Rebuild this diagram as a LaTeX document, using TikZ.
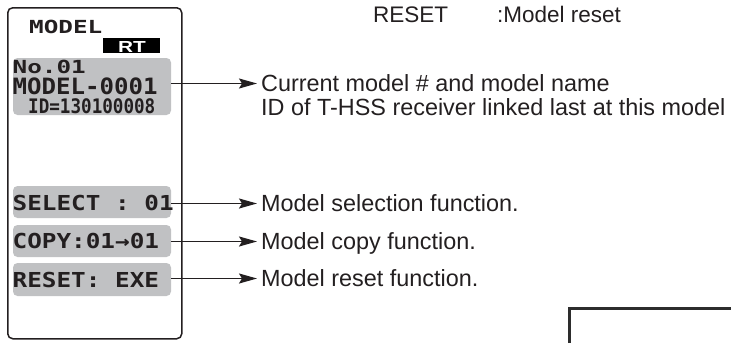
\documentclass[tikz,border=0pt]{standalone}
\usepackage{fontspec}
\setmainfont{Liberation Sans}
\newfontfamily\lcdA[FakeStretch=1.07]{DejaVu Sans Mono}
\newfontfamily\lcdB[FakeStretch=1.18]{DejaVu Sans Mono}
\newfontfamily\lcdW[FakeStretch=1.35]{DejaVu Sans Mono}
\newfontfamily\lcdN[FakeStretch=0.88]{DejaVu Sans Mono}
\newfontfamily\rtfont[FakeStretch=1.3]{Liberation Sans}
\usetikzlibrary{arrows.meta}
\definecolor{ink}{RGB}{35,31,32}
\definecolor{lcdgray}{RGB}{192,193,195}
\definecolor{framegray}{RGB}{45,45,45}
\begin{document}
\begin{tikzpicture}[x=1pt,y=-1pt,
  screen/.style={draw=ink, line width=1.5pt, rounded corners=5pt, inner sep=0pt},
  graybox/.style={fill=lcdgray, rounded corners=4.5pt, minimum width=158pt, inner sep=0pt},
  lcd/.style={font=\lcdB\bfseries\fontsize{20.6}{20.6}\selectfont, text=ink, inner sep=0pt, anchor=west, text height=15pt, text depth=0pt},
  desc/.style={font=\fontsize{23.4}{26}\selectfont, text=ink, inner sep=0pt, anchor=west, text height=16.75pt, text depth=0pt},
  pointer/.style={draw=ink, line width=1.6pt, -{Stealth[length=18pt,width=10pt,inset=3pt]}}]
\useasboundingbox (0,0) rectangle (731,343);

% screen outline
\node[screen, minimum width=174pt, minimum height=331pt, anchor=north west] (screen) at (7,7) {};

% header
\node[lcd, font=\lcdW\bfseries\fontsize{18}{18}\selectfont, text height=13pt] (title) at (29,26.5) {MODEL};
\node[fill=black, minimum width=57pt, minimum height=15pt, inner sep=0pt,
      anchor=north west] (rt) at (103,38) {};
\node[text=white, inner sep=0pt, font=\rtfont\bfseries\fontsize{16}{16}\selectfont,
      text height=11.5pt, text depth=0pt] (rtT) at (132,46.5) {RT};

% gray boxes
\node[graybox, minimum height=57pt] (boxA) at (92,86.5) {};
\node[graybox, minimum height=32pt] (sel) at (92,202) {};
\node[graybox, minimum height=32pt] (cpy) at (92,241) {};
\node[graybox, minimum height=33pt] (rst) at (92,279.5) {};

% LCD texts
\node[lcd, font=\lcdW\bfseries\fontsize{18}{18}\selectfont, text height=13pt] (numT) at (12.5,66.5) {No.01};
\node[lcd, font=\lcdA\bfseries\fontsize{22.5}{22.5}\selectfont, text height=16pt] (nameT) at (12.5,86) {MODEL-0001};
\node[lcd, font=\lcdN\bfseries\fontsize{20}{20}\selectfont, text height=14.5pt] (idT) at (28,106) {ID=130100008};
\node[lcd] (selT) at (12.5,202.5) {SELECT : 01};
\node[lcd] (cpyT) at (12.5,241) {COPY:01→01};
\node[lcd] (rstT) at (12.5,279.5) {RESET: EXE};

% descriptions
\node[desc] (d1) at (261,83.5) {Current model \# and model name};
\node[desc] (d2) at (261,107) {ID of T-HSS receiver linked last at this model};
\node[desc] (d3) at (261,203.5) {Model selection function.};
\node[desc] (d4) at (261,241.5) {Model copy function.};
\node[desc] (d5) at (261,278.5) {Model reset function.};

% top line
\node[desc, font=\fontsize{22.5}{24}\selectfont, anchor=base west] (topA) at (373,22) {RESET};
\node[desc, font=\fontsize{22.5}{24}\selectfont, anchor=base west] (topB) at (497,22) {:Model reset};

% pointers
\draw[pointer] (boxA.east |- d1.west) -- ([xshift=-4pt]d1.west);
\draw[pointer] (sel.east |- d3.west) -- ([xshift=-4pt]d3.west);
\draw[pointer] (cpy.east |- d4.west) -- ([xshift=-4pt]d4.west);
\draw[pointer] (rst.east |- d5.west) -- ([xshift=-4pt]d5.west);

% frame corner at bottom right
\coordinate (fb) at (569.5,343);
\coordinate (fc) at (569.5,308.5);
\coordinate (fr) at (731,308.5);
\draw[framegray, line width=2.5pt] (fb) -- (fc) -- (fr);
\end{tikzpicture}
\end{document}
